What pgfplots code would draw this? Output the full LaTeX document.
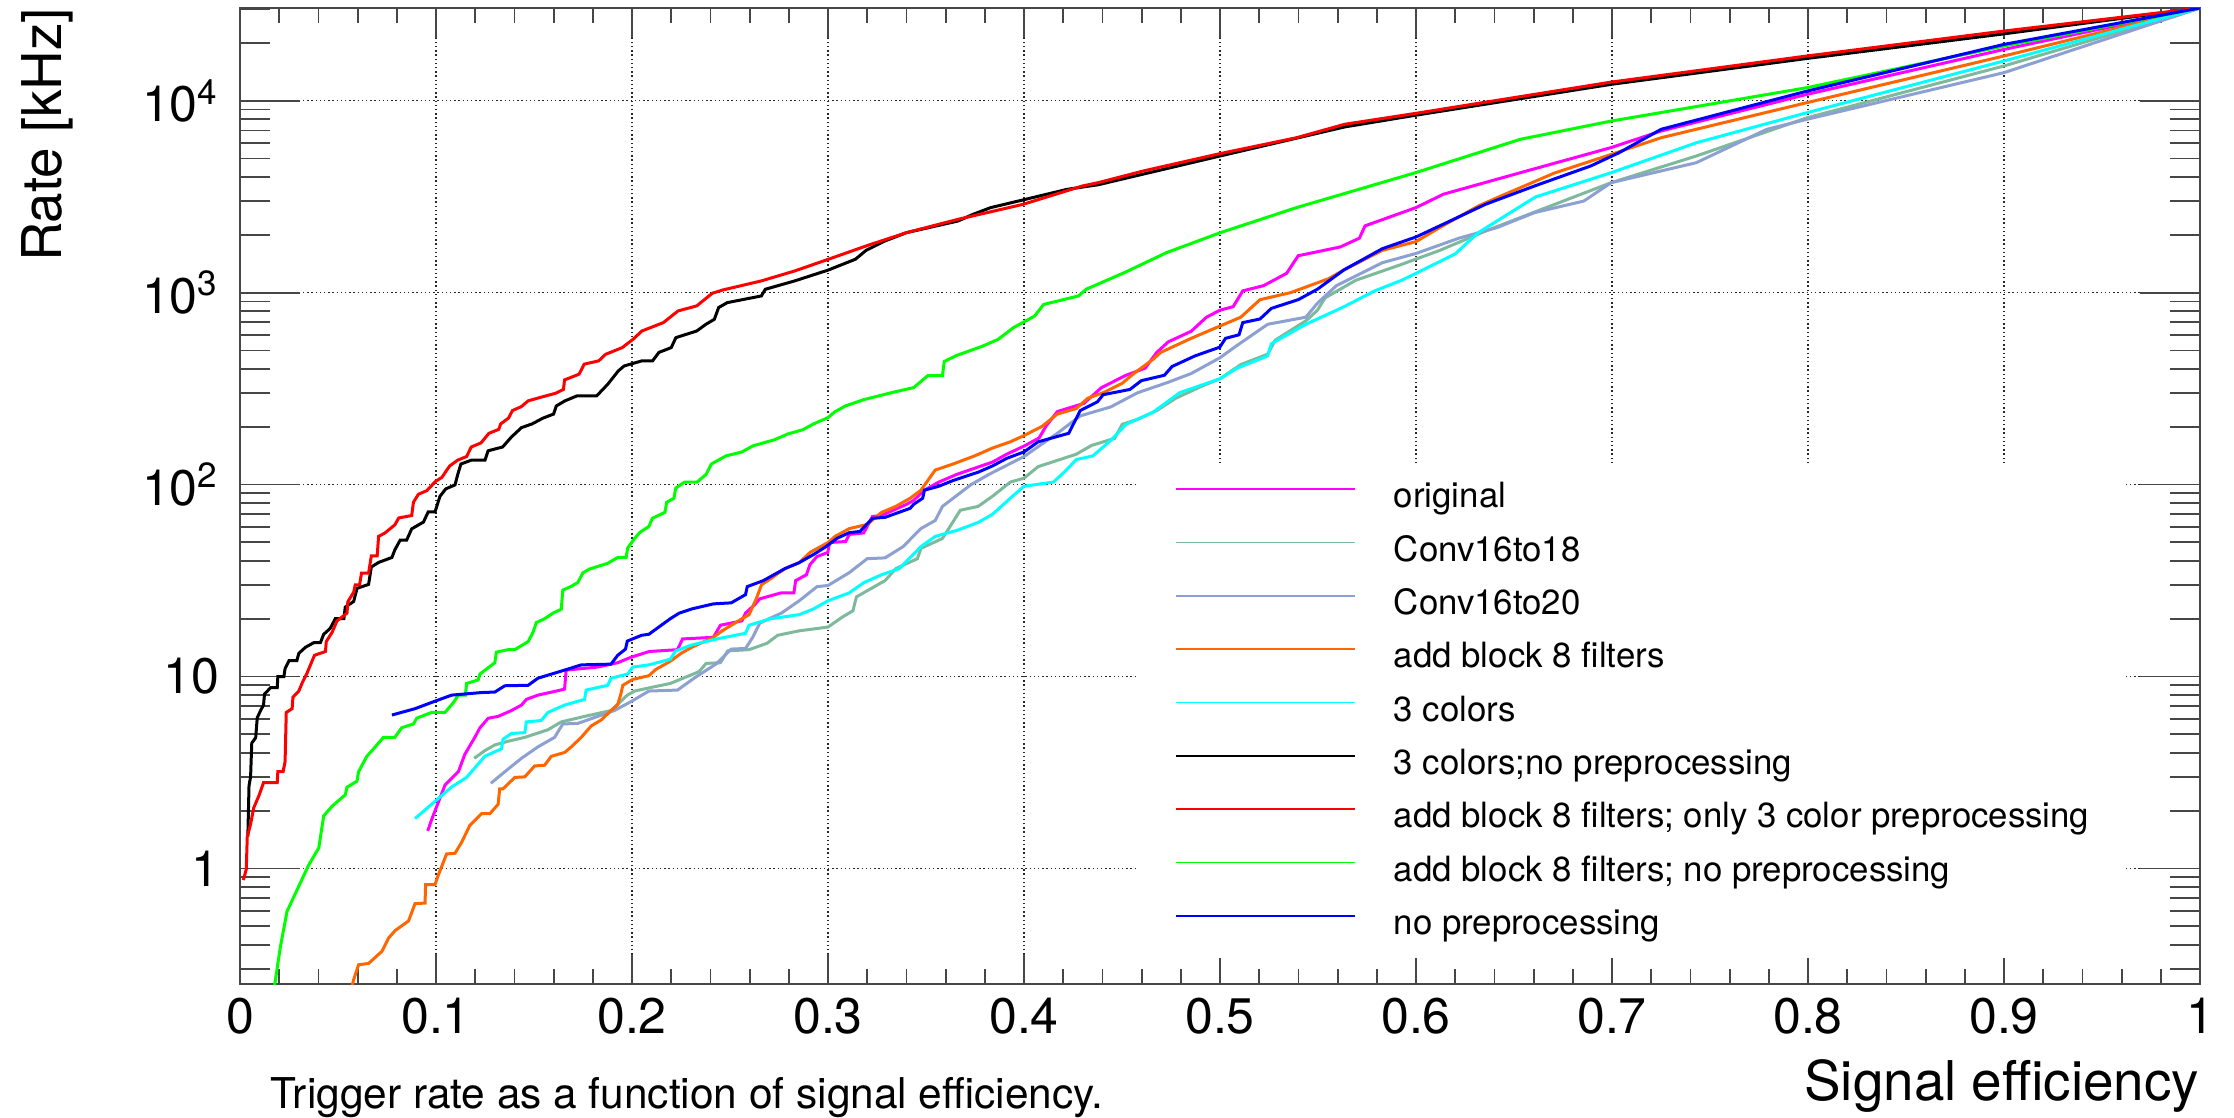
\documentclass[border=0pt]{standalone}
\usepackage{fontspec}
\setmainfont{TeX Gyre Heros}
\usepackage{pgfplots}
\pgfplotsset{compat=1.18}

\definecolor{cOrig}{RGB}{255,0,255}
\definecolor{cCsix}{RGB}{125,185,155}
\definecolor{cCtwo}{RGB}{140,160,210}
\definecolor{cAdd}{RGB}{255,102,0}
\definecolor{cCyan}{RGB}{0,255,255}
\definecolor{cRed}{RGB}{255,0,0}
\definecolor{cGreen}{RGB}{0,255,0}
\definecolor{cBlue}{RGB}{0,0,255}
\definecolor{frame}{RGB}{70,70,70}

\newcommand{\ticksize}{\fontsize{12.5}{12.5}\selectfont}
\newcommand{\titlesize}{\fontsize{13.7}{13.7}\selectfont}
\newcommand{\smallsize}{\fontsize{8.7}{8.7}\selectfont}

\begin{document}
\begin{tikzpicture}
\path[use as bounding box] (0,0) rectangle (558.5pt,279.25pt);
\begin{axis}[
  at={(60pt,33.25pt)}, anchor=south west,
  scale only axis, width=490pt, height=244pt,
  xmin=0, xmax=1,
  ymode=log, ymin=0.25, ymax=30400,
  xtick={0,0.1,0.2,0.3,0.4,0.5,0.6,0.7,0.8,0.9,1},
  xticklabels={0,0.1,0.2,0.3,0.4,0.5,0.6,0.7,0.8,0.9,1},
  minor x tick num=4,
  ytick={1,10,100,1000,10000},
  yticklabels={1,10,10\textsuperscript{2},10\textsuperscript{3},10\textsuperscript{4}},
  minor ytick={0.3,0.4,0.5,0.6,0.7,0.8,0.9,2,3,4,5,6,7,8,9,20,30,40,50,60,70,80,90,200,300,400,500,600,700,800,900,2000,3000,4000,5000,6000,7000,8000,9000,20000,30000},
  tick pos=both, xticklabel pos=lower, yticklabel pos=left,
  tick align=inside,
  xmajorgrids, ymajorgrids,
  major grid style={black!85, line width=0.3pt, dash pattern=on 0.35pt off 0.7pt},
  axis line style={frame, line width=0.45pt},
  every tick/.style={frame, line width=0.45pt},
  xtick style={/pgfplots/major tick length=7.5pt, /pgfplots/minor tick length=3.75pt},
  ytick style={/pgfplots/major tick length=15pt, /pgfplots/minor tick length=7.5pt},
  tick label style={font=\ticksize},
  xticklabel style={anchor=base, inner sep=0pt, yshift=-12.25pt},
  yticklabel style={anchor=east, inner sep=0pt, xshift=-5pt},
  every axis plot/.append style={line width=0.75pt},
  legend cell align=left,
  legend style={at={(0.4577,0.5318)}, anchor=north west, draw=none, fill=white,
    font=\smallsize, inner xsep=9.2pt, inner ysep=4pt,
    nodes={inner sep=0pt, text height=6.5pt, text depth=2pt},
    row sep=4.83pt, column sep=9.6pt},
  legend image code/.code={\draw[#1, line width=0.4pt] (0pt,2.4pt) -- (44.8pt,2.4pt);},
]

% original
\addplot[cOrig] coordinates {
(0.0958,1.57) (0.0978,1.8) (0.1046,2.72) (0.1114,3.19) (0.1147,3.93) (0.1198,4.82) (0.1224,5.4)
(0.1266,6.06) (0.1317,6.2) (0.1385,6.65) (0.1436,7.1) (0.1461,7.6) (0.152,8.0) (0.1614,8.4)
(0.1656,8.6) (0.1664,10.8) (0.1825,11.2) (0.1927,11.8) (0.1995,12.6) (0.2088,13.5) (0.2232,13.8)
(0.2258,15.7) (0.2415,16) (0.2451,18.5) (0.2561,19.5) (0.2579,21.4) (0.2625,23.6) (0.2652,25.4)
(0.2762,27.3) (0.2826,27.3) (0.2835,31.6) (0.289,33.9) (0.2908,38.3) (0.2944,42.2) (0.2999,44.3)
(0.3008,49.9) (0.309,50.5) (0.3109,55) (0.3182,56) (0.3227,68.2) (0.3273,69) (0.3401,78.9)
(0.3437,82.8) (0.3492,93.5) (0.3565,103) (0.3657,113) (0.3839,131) (0.3912,144) (0.4002,159)
(0.4077,175) (0.4113,202) (0.417,240) (0.4306,265) (0.4395,320) (0.452,371) (0.4618,404)
(0.4677,488) (0.4736,554) (0.4853,629) (0.4931,745) (0.5,810) (0.5067,845) (0.5116,1021)
(0.5223,1088) (0.534,1261) (0.5399,1557) (0.5614,1730) (0.5711,1922) (0.574,2228) (0.6,2773)
(0.614,3258) (0.6533,4217) (0.6996,5700) (0.7251,6955) (0.7995,10790) (0.9,18500) (1.0,30400)
};
\addlegendentry{original}

% Conv16to18
\addplot[cCsix] coordinates {
(0.1195,3.75) (0.1249,4.11) (0.13,4.4) (0.1368,4.6) (0.1453,4.82) (0.1571,5.28) (0.1639,5.8)
(0.1758,6.2) (0.1893,6.65) (0.1976,8.0) (0.2013,8.4) (0.2104,8.8) (0.2195,9.2) (0.225,9.7)
(0.2342,10.6) (0.2378,11.7) (0.2451,11.8) (0.2488,13.6) (0.2597,13.8) (0.2689,14.9) (0.2743,16.4)
(0.2853,17.3) (0.3,18.1) (0.3073,20.4) (0.3127,22) (0.3145,26) (0.3237,29.4) (0.3291,31.6)
(0.3346,36.5) (0.3456,41.1) (0.3474,46.5) (0.3584,52.4) (0.3675,73.5) (0.3766,77) (0.3839,86.9)
(0.393,103) (0.4,108) (0.4072,124) (0.4267,144) (0.4345,160) (0.4462,174) (0.4501,206)
(0.458,219) (0.4677,243) (0.4775,282) (0.4911,327) (0.5,356) (0.5106,422) (0.5243,478)
(0.5282,566) (0.5438,713) (0.5497,810) (0.5536,939) (0.5692,1159) (0.5926,1403) (0.6121,1660)
(0.6355,2094) (0.6609,2638) (0.6996,3741) (0.743,5150) (0.7995,8150) (0.9,15170) (1.0,30400)
};
\addlegendentry{Conv16to18}

% Conv16to20
\addplot[cCtwo] coordinates {
(0.128,2.78) (0.1351,3.19) (0.1436,3.75) (0.152,4.3) (0.1605,4.82) (0.1647,5.66) (0.1724,5.7)
(0.1825,6.2) (0.191,6.65) (0.1995,7.4) (0.2086,8.4) (0.2232,8.5) (0.2323,9.9) (0.2433,11.7)
(0.2506,13.9) (0.2579,14) (0.2616,16) (0.2652,19) (0.2762,21.4) (0.2853,24.8) (0.2944,29.4)
(0.3,29.8) (0.3109,34.8) (0.32,41.1) (0.3291,41.5) (0.3383,47.5) (0.3474,59) (0.3547,65)
(0.3584,77) (0.373,100) (0.3821,113) (0.4,140) (0.417,185) (0.4287,228) (0.4443,254)
(0.458,301) (0.4735,341) (0.4853,379) (0.5,458) (0.5087,531) (0.5243,684) (0.5438,745)
(0.5497,881) (0.5594,1088) (0.5828,1432) (0.6,1600) (0.6219,1922) (0.6414,2183) (0.6605,2612)
(0.6856,3000) (0.6996,3741) (0.743,4753) (0.779,7098) (0.7995,8000) (0.9,14000) (1.0,30400)
};
\addlegendentry{Conv16to20}

% add block 8 filters
\addplot[cAdd] coordinates {
(0.057,0.24) (0.058,0.264) (0.0605,0.315) (0.0656,0.32) (0.0724,0.37) (0.0758,0.434) (0.0792,0.475)
(0.086,0.533) (0.0893,0.656) (0.0944,0.66) (0.0947,0.824) (0.0995,0.824) (0.1012,0.925) (0.1054,1.19)
(0.1097,1.2) (0.1131,1.37) (0.1173,1.68) (0.1232,1.93) (0.1275,1.93) (0.1317,2.16) (0.1325,2.6)
(0.1342,2.6) (0.1402,2.98) (0.1453,3.0) (0.1503,3.42) (0.1554,3.45) (0.1588,3.84) (0.1656,4.02)
(0.169,4.3) (0.1741,4.82) (0.1792,5.53) (0.1842,5.93) (0.1893,6.65) (0.1927,7.13) (0.1944,8.17)
(0.1953,9.0) (0.2004,9.66) (0.2086,10.1) (0.2122,10.9) (0.2195,12) (0.225,13.2) (0.2305,14.2)
(0.2415,16) (0.246,17.3) (0.2561,20) (0.2597,21) (0.2634,25.4) (0.2661,30.1) (0.2707,32.3)
(0.278,36.5) (0.2853,39.2) (0.2908,44.3) (0.3,49.9) (0.3036,53.7) (0.3109,59) (0.32,62)
(0.3273,71.6) (0.3346,77) (0.3419,84.9) (0.3474,93.5) (0.3547,119) (0.3638,128) (0.3748,141)
(0.3839,155) (0.393,167) (0.4,180) (0.4092,201) (0.417,233) (0.4267,249) (0.4326,282)
(0.4404,301) (0.4501,337) (0.456,379) (0.4658,449) (0.4697,488) (0.4853,578) (0.5,670)
(0.5106,745) (0.5204,919) (0.536,1000) (0.5555,1183) (0.5633,1315) (0.5828,1660) (0.6,1845)
(0.6121,2183) (0.6318,2827) (0.6414,3126) (0.6706,4198) (0.6996,5250) (0.725,6412) (0.7995,9770)
(0.9,17100) (1.0,30400)
};
\addlegendentry{add block 8 filters}

% 3 colors
\addplot[cCyan] coordinates {
(0.0893,1.82) (0.0978,2.16) (0.108,2.66) (0.1156,2.98) (0.1215,3.5) (0.1249,3.84) (0.1334,4.2)
(0.1342,4.71) (0.1385,5.05) (0.1453,5.1) (0.1461,5.8) (0.1537,5.9) (0.1571,6.5) (0.1656,7.1)
(0.1758,7.6) (0.1766,8.5) (0.1876,9.0) (0.1893,9.8) (0.1978,10.3) (0.2004,11.2) (0.2086,11.5)
(0.2195,12.3) (0.2223,13.6) (0.2305,14.6) (0.2433,15.7) (0.2579,16.8) (0.2597,18.5) (0.2707,20)
(0.2853,21) (0.2926,22.5) (0.3,24.8) (0.3109,27.3) (0.3182,30.8) (0.3273,33.9) (0.3364,36.5)
(0.3474,47.5) (0.3547,53.7) (0.3657,57.7) (0.3766,63.5) (0.3839,70) (0.393,84.9) (0.4,98)
(0.415,103) (0.4205,116) (0.4267,135) (0.4351,141) (0.4443,170) (0.4521,206) (0.4658,238)
(0.4794,301) (0.5,356) (0.5087,404) (0.5243,468) (0.5262,542) (0.5438,684) (0.5633,845)
(0.5789,1021) (0.5926,1159) (0.6,1261) (0.6199,1589) (0.6316,2048) (0.6609,3150) (0.6996,4217)
(0.7431,6040) (0.7995,8660) (0.9,16110) (1.0,30400)
};
\addlegendentry{3 colors}

% 3 colors, no preprocessing
\addplot[black] coordinates {
(0.004,1.47) (0.0046,2.7) (0.0054,3.0) (0.006,4.5) (0.008,4.8) (0.0088,6.1) (0.0105,6.65)
(0.012,7.1) (0.0125,8.1) (0.0156,8.75) (0.019,8.75) (0.0193,10.0) (0.0224,10) (0.023,11)
(0.025,12.1) (0.029,12.1) (0.030,13.2) (0.0334,14.2) (0.0376,15) (0.041,15) (0.0427,16.6)
(0.046,17.8) (0.0486,20) (0.053,20) (0.0537,23) (0.058,24.6) (0.0597,28.8) (0.0656,30.2)
(0.067,37.2) (0.0707,39.3) (0.0775,41.7) (0.079,45.7) (0.0817,51.3) (0.085,51.3) (0.0876,58.8)
(0.0936,63.8) (0.096,72) (0.0995,72) (0.102,86.8) (0.105,95) (0.1097,99.6) (0.111,112)
(0.1127,128) (0.118,134) (0.125,134) (0.1266,150) (0.134,157) (0.1385,177) (0.1436,198)
(0.149,207) (0.1546,222) (0.160,233) (0.1614,257) (0.1658,273) (0.172,290) (0.182,290)
(0.1876,333) (0.193,391) (0.196,415) (0.205,441) (0.2105,441) (0.2137,488) (0.220,517)
(0.2224,583) (0.233,631) (0.2377,684) (0.242,726) (0.2442,836) (0.2486,887) (0.266,961)
(0.268,1041) (0.283,1151) (0.300,1310) (0.314,1493) (0.3194,1660) (0.329,1858) (0.340,2053)
(0.3663,2361) (0.374,2558) (0.383,2773) (0.3995,3041) (0.422,3453) (0.4379,3650) (0.5,5150)
(0.5636,7300) (0.5998,8400) (0.6996,12170) (0.7995,16600) (0.9,22300) (1.0,30400)
};
\addlegendentry{3 colors;no preprocessing}

% add block 8 filters, only 3 color preprocessing
\addplot[cRed] coordinates {
(0.0017,0.87) (0.0032,0.99) (0.0037,1.46) (0.0054,1.7) (0.007,2.07) (0.0097,2.4) (0.012,2.8)
(0.019,2.8) (0.0193,3.2) (0.022,3.2) (0.023,3.6) (0.0236,6.5) (0.0266,6.8) (0.027,7.8)
(0.030,8.4) (0.032,9.4) (0.034,10.3) (0.038,12.9) (0.0436,13.5) (0.044,15.2) (0.047,17)
(0.0495,19.5) (0.0546,21.4) (0.055,24.5) (0.058,27.5) (0.0588,30) (0.061,30) (0.062,34.6)
(0.0656,34.6) (0.067,42.5) (0.070,42.5) (0.0707,53.7) (0.074,56) (0.079,61.7) (0.081,67)
(0.0876,69) (0.0885,81) (0.091,89) (0.0953,93) (0.0998,104) (0.103,109) (0.105,117)
(0.107,125) (0.111,134) (0.1156,140) (0.118,157) (0.123,165) (0.127,185) (0.132,194)
(0.133,207) (0.137,222) (0.139,243) (0.1436,255) (0.147,273) (0.154,286) (0.161,299)
(0.165,313) (0.1656,351) (0.173,376) (0.1756,424) (0.183,441) (0.1865,477) (0.195,517)
(0.2006,572) (0.205,631) (0.216,698) (0.2235,803) (0.233,853) (0.241,993) (0.2464,1033)
(0.266,1151) (0.283,1297) (0.300,1490) (0.3205,1766) (0.340,2053) (0.3663,2409) (0.3995,2884)
(0.4298,3595) (0.4379,3741) (0.461,4307) (0.500,5300) (0.539,6412) (0.5636,7537) (0.5998,8589)
(0.6996,12500) (0.7995,17100) (0.9,23060) (1.0,30400)
};
\addlegendentry{add block 8 filters; only 3 color preprocessing}

% add block 8 filters, no preprocessing
\addplot[cGreen] coordinates {
(0.0175,0.24) (0.0181,0.264) (0.0207,0.396) (0.024,0.598) (0.035,1.04) (0.0402,1.28) (0.0427,1.88)
(0.047,2.11) (0.0537,2.42) (0.0546,2.65) (0.0597,2.85) (0.0605,3.19) (0.0647,3.84) (0.0673,4.11)
(0.0732,4.82) (0.079,4.82) (0.0825,5.41) (0.0885,5.66) (0.0902,6.07) (0.0978,6.5) (0.1046,6.5)
(0.1088,7.3) (0.1114,8.0) (0.1150,8.0) (0.1156,9.2) (0.1215,9.6) (0.1224,10.3) (0.13,11.8)
(0.1308,13.4) (0.1368,13.8) (0.1402,13.8) (0.147,15.2) (0.1495,17) (0.1512,19.1) (0.1554,20)
(0.1597,21.4) (0.1639,22.4) (0.1647,28.2) (0.169,29.5) (0.1724,30.9) (0.1749,34.7) (0.1783,36.3)
(0.1876,38.9) (0.1927,41.7) (0.197,41.7) (0.1978,46.7) (0.2013,52.4) (0.204,56.3) (0.2086,60.5)
(0.2104,66.7) (0.2168,71.7) (0.2177,80.9) (0.2214,84.9) (0.2223,95.8) (0.2268,103) (0.2332,103)
(0.2378,113) (0.2405,128) (0.2479,141) (0.2561,148) (0.2616,159) (0.2725,171) (0.2798,184)
(0.2871,193) (0.2926,207) (0.2999,223) (0.3036,240) (0.309,257) (0.3182,277) (0.3346,305)
(0.3437,320) (0.351,370) (0.3584,370) (0.3593,438) (0.3657,471) (0.379,527) (0.3868,571)
(0.3946,657) (0.4054,755) (0.410,868) (0.4278,961) (0.4317,1041) (0.4512,1271) (0.4727,1616)
(0.5,2050) (0.539,2773) (0.5998,4217) (0.6533,6296) (0.6996,7834) (0.7995,11690) (0.9,19270)
(1.0,30400)
};
\addlegendentry{add block 8 filters; no preprocessing}

% no preprocessing
\addplot[cBlue] coordinates {
(0.0775,6.3) (0.0893,6.8) (0.0998,7.46) (0.108,8.0) (0.1232,8.25) (0.13,8.3) (0.1351,8.95)
(0.147,9.0) (0.152,9.8) (0.1656,10.8) (0.1741,11.5) (0.1893,11.6) (0.1927,12.9) (0.1967,13.9)
(0.1976,15.3) (0.2049,16.4) (0.2086,16.6) (0.2195,20) (0.2241,21.4) (0.2305,22.5) (0.2415,23.9)
(0.2506,24.2) (0.2579,26.7) (0.2588,29.4) (0.267,31.6) (0.278,36.5) (0.2853,39.2) (0.2926,43.2)
(0.299,47.5) (0.3045,52.4) (0.3109,56.2) (0.3163,57) (0.3227,66.7) (0.3291,67.5) (0.3419,75.2)
(0.3437,78.9) (0.3483,84.9) (0.3492,93.5) (0.3565,98) (0.3638,105) (0.3766,116) (0.3839,125)
(0.3912,137) (0.4,148) (0.4072,167) (0.4228,185) (0.4287,243) (0.4375,270) (0.4404,294)
(0.454,313) (0.4599,348) (0.4716,371) (0.4755,412) (0.4872,468) (0.4999,520) (0.5028,578)
(0.5097,603) (0.5116,698) (0.5204,729) (0.5262,828) (0.5399,919) (0.5497,1042) (0.5633,1315)
(0.5828,1694) (0.6,1950) (0.6121,2228) (0.6354,2884) (0.6605,3595) (0.6892,4573) (0.7036,5358)
(0.7251,7098) (0.7995,11220) (0.9,19650) (1.0,30400)
};
\addlegendentry{no preprocessing}
\end{axis}

\node[anchor=base east, font=\titlesize, inner sep=0pt] at (550pt,4.25pt) {Signal efficiency};
\node[rotate=90, anchor=base east, font=\titlesize, inner sep=0pt] at (15.25pt,277.5pt) {Rate [kHz]};
\node[anchor=base west, font=\fontsize{10.6}{10.6}\selectfont, inner sep=0pt] at (67.5pt,2.25pt) {Trigger rate as a function of signal efficiency.};
\end{tikzpicture}
\end{document}
